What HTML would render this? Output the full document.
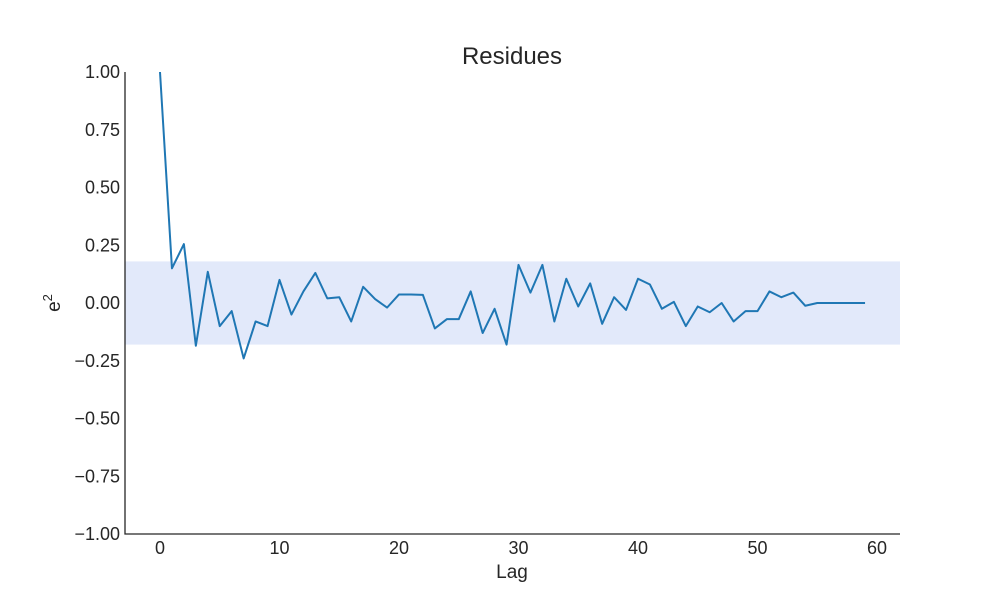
<!DOCTYPE html>
<html><head><meta charset="utf-8"><style>
body{margin:0;background:#fff;}
svg text{font-family:"Liberation Sans",sans-serif;fill:#262626;}
</style></head><body>
<svg width="1000" height="600">
<g id="plot"></g>
</svg>
<script>
const lags = [];
for (let i = 0; i < 60; i++) lags.push(i);
const residues = [1.0,0.15,0.255,-0.185,0.135,-0.10,-0.035,-0.24,-0.08,-0.10,0.10,-0.05,0.05,0.13,0.02,0.025,-0.08,0.07,0.017,-0.02,0.037,0.037,0.035,-0.11,-0.07,-0.07,0.05,-0.13,-0.025,-0.18,0.165,0.045,0.165,-0.08,0.105,-0.015,0.085,-0.09,0.025,-0.03,0.105,0.08,-0.025,0.005,-0.10,-0.015,-0.04,0,-0.08,-0.035,-0.035,0.05,0.025,0.045,-0.012,0,0,0,0,0];
const bandHalf = 0.18;
const xTicks = [0,10,20,30,40,50,60];
const yTicks = [1.00,0.75,0.50,0.25,0.00,-0.25,-0.50,-0.75,-1.00];

const NS = "http://www.w3.org/2000/svg";
const g = document.getElementById('plot');
const X = v => 160 + v * (877 - 160) / 60;
const Y = v => 303 - v * 231;
function mk(tag, attrs, parent) {
  const e = document.createElementNS(NS, tag);
  for (const k in attrs) e.setAttribute(k, attrs[k]);
  (parent || g).appendChild(e);
  return e;
}
const band = mk('rect', {x:125, y:Y(bandHalf), width:775, height:Y(-bandHalf)-Y(bandHalf), fill:'#e2e9fa'});



const ax = mk('path', {d:'M125 72 V534 H900', stroke:'#262626', 'stroke-width':1.3, fill:'none'});



xTicks.forEach(t => {
  const tx = mk('text', {x:X(t), y:554, 'text-anchor':'middle', 'font-size':18});
  tx.textContent = t;
  
  
});
yTicks.forEach(t => {
  const tx = mk('text', {x:120, y:Y(t)+6, 'text-anchor':'end', 'font-size':18});
  tx.textContent = t.toFixed(2).replace('-', '\u2212');
  
  
});

const pts = lags.map((l, i) => X(l) + ',' + Y(residues[i])).join(' ');
const line = mk('polyline', {points:pts, fill:'none', stroke:'#1f77b4', 'stroke-width':2, 'stroke-linejoin':'round'});



const title = mk('text', {x:512, y:64, 'text-anchor':'middle', 'font-size':24});
title.textContent = 'Residues';



const xl = mk('text', {x:512, y:578, 'text-anchor':'middle', 'font-size':19});
xl.textContent = 'Lag';



const yl = mk('text', {x:0, y:0, 'text-anchor':'middle', 'font-size':19, transform:'translate(60,303) rotate(-90)'});
yl.innerHTML = 'e<tspan dy="-8" font-size="13">2</tspan>';


</script>
</body></html>
